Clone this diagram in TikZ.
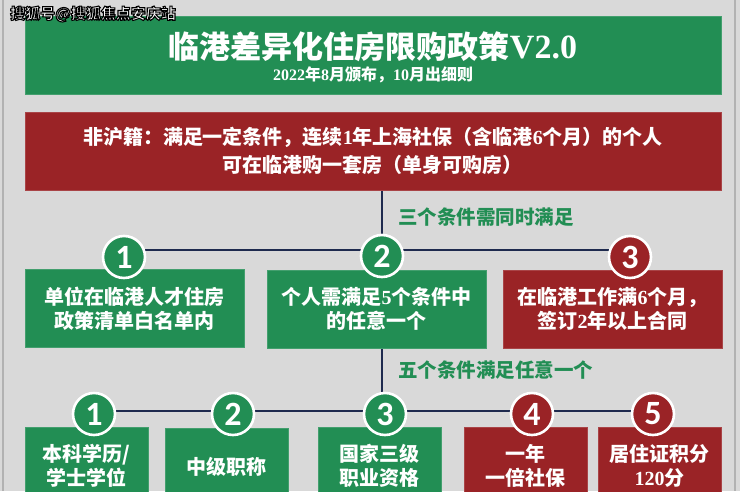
\documentclass[tikz,border=0pt]{standalone}
\usepackage{fontspec}
\setmainfont{Noto Sans CJK SC}
\newfontfamily\serfont{Liberation Serif}
\newfontfamily\numfont{Carlito}
\newcommand\srf[1]{{\serfont\bfseries #1}}
\definecolor{cbg}{HTML}{D9D9D9}
\definecolor{cgreen}{HTML}{228E54}
\definecolor{cred}{HTML}{9A2326}
\definecolor{cnavy}{HTML}{1E2A4E}
\pgfdeclarelayer{bglayer}
\pgfdeclarelayer{linelayer}
\pgfsetlayers{bglayer,linelayer,main}
\tikzset{
  box/.style={rectangle, inner sep=0pt, text=white, align=center,
    font=\bfseries\fontsize{20}{24}\selectfont},
  gbox/.style={box, fill=cgreen, draw=cgreen!85!white, line width=0.6pt},
  rbox/.style={box, fill=cred, draw=cred!85!white, line width=0.6pt},
  numc/.style={circle, inner sep=0pt, minimum size=42pt, draw=white, line width=2.6pt,
    text=white, font=\numfont\bfseries\fontsize{34}{34}\selectfont},
  gcirc/.style={numc, fill=cgreen},
  rcirc/.style={numc, fill=cred},
  link/.style={draw=cnavy, line width=2.8pt},
  lab/.style={anchor=west, inner sep=0pt, text=cgreen, font=\bfseries\fontsize{19.5}{20}\selectfont},
}
\begin{document}
\begin{tikzpicture}[x=1pt,y=-1pt]
\useasboundingbox (0,0) rectangle (740,491);
\clip (0,0) rectangle (740,491);
\begin{pgfonlayer}{bglayer}
\fill[cbg] (0,0) rectangle (740,491);
\draw[gray!60, line width=1.5pt] (3,0) -- (3,491);
\draw[gray!60, line width=1.5pt] (735,0) -- (735,491);
\end{pgfonlayer}

% title
\node[gbox, minimum width=696pt, minimum height=78pt, anchor=north west] (title) at (25,16) {};
\node[inner sep=0pt, text=white, font=\bfseries\fontsize{31}{31}\selectfont] (t1) at (373,47) {临港差异化住房限购政策{\fontsize{34}{34}\selectfont\srf{V2.0}}};
\node[inner sep=0pt, text=white, font=\bfseries\fontsize{16}{16}\selectfont] (t2) at (373,75) {\srf{2022}年\srf{8}月颁布，\srf{10}月出细则};

% red statement
\node[rbox, minimum width=696pt, minimum height=78pt, font=\bfseries\fontsize{20}{28}\selectfont] (stmt) at (373,151)
  {非沪籍：满足一定条件，连续\srf{1}年上海社保（含临港\srf{6}个月）的个人\\可在临港购一套房（单身可购房）};

% row 2 boxes
\node[gbox, minimum width=219pt, minimum height=78pt] (a1) at (134.5,308.5) {单位在临港人才住房\\政策清单白名单内};
\node[gbox, minimum width=219pt, minimum height=78pt] (a2) at (376.5,309) {个人需满足\srf{5}个条件中\\的任意一个};
\node[rbox, minimum width=219pt, minimum height=78pt] (a3) at (612.5,309) {在临港工作满\srf{6}个月，\\签订\srf{2}年以上合同};

% row 2 circles
\node[gcirc] (c1) at (124,257) {1};
\node[gcirc] (c2) at (382,256) {2};
\node[rcirc] (c3) at (630,257) {3};

% row 3 boxes
\node[gbox, minimum width=123pt, minimum height=78pt] (b1) at (86.5,466) {本科学历/\\学士学位};
\node[gbox, minimum width=123pt, minimum height=78pt] (b2) at (226.5,467) {中级职称};
\node[gbox, minimum width=123pt, minimum height=78pt] (b3) at (379.5,466) {国家三级\\职业资格};
\node[rbox, minimum width=123pt, minimum height=78pt] (b4) at (525.5,466) {一年\\一倍社保};
\node[rbox, minimum width=123pt, minimum height=78pt] (b5) at (659.5,466) {居住证积分\\\srf{120}分};

% row 3 circles
\node[gcirc] (d1) at (94,414) {1};
\node[gcirc] (d2) at (233,414) {2};
\node[gcirc] (d3) at (385,414) {3};
\node[rcirc] (d4) at (532,414) {4};
\node[rcirc] (d5) at (653,414) {5};

% labels
\node[lab] (l1) at (398,217) {三个条件需同时满足};
\node[lab] (l2) at (398,370) {五个条件满足任意一个};

% connectors
\begin{pgfonlayer}{linelayer}
\draw[link] ([yshift=7pt]c1.center) -- ([yshift=7pt]c3.center);
\draw[link] ([yshift=3pt]d1.center) -- ([yshift=3pt]d5.center);
\draw[link] (stmt.south -| c2) -- (c2.center);
\draw[link] (a2.south -| c2) -- (d3.center -| c2);
\end{pgfonlayer}

% watermark (white text with black outline)
\node[inner sep=0pt, anchor=west, text=white, font=\bfseries\fontsize{15}{15}\selectfont] (wm) at (10,14)
  {\special{pdf:literal direct 2 Tr 1.1 w 0 0 0 RG}搜狐号@搜狐焦点安庆站\special{pdf:literal direct 0 Tr}};
\end{tikzpicture}
\end{document}
